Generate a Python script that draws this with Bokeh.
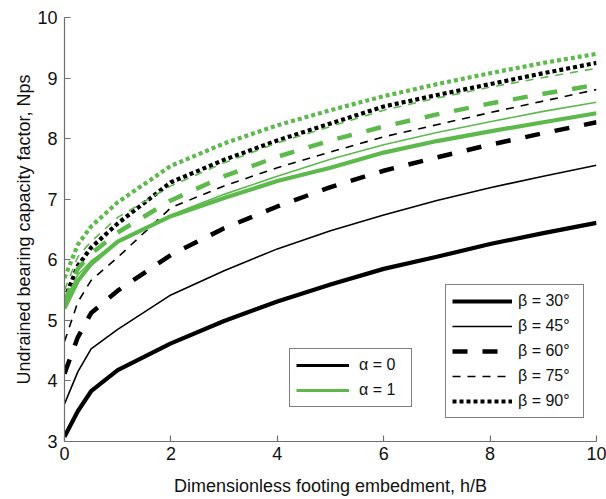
import numpy as np
from bokeh.plotting import figure
from bokeh.models import Range1d, Legend, LegendItem, FixedTicker
from bokeh.embed import file_html
from bokeh.resources import INLINE

# ---------------- data ----------------
h_over_b = [0, 0.25, 0.5, 1, 2, 3, 4, 5, 6, 7, 8, 9, 10]

# alpha = 0 (black)
a0_b30 = [3.08, 3.50, 3.83, 4.18, 4.62, 4.99, 5.31, 5.59, 5.85, 6.05, 6.26, 6.44, 6.61]
a0_b45 = [3.62, 4.15, 4.53, 4.85, 5.42, 5.82, 6.18, 6.48, 6.74, 6.98, 7.19, 7.38, 7.56]
a0_b60 = [4.12, 4.72, 5.12, 5.49, 6.08, 6.52, 6.88, 7.20, 7.47, 7.69, 7.90, 8.09, 8.27]
a0_b75 = [4.65, 5.30, 5.66, 6.04, 6.86, 7.22, 7.52, 7.78, 8.03, 8.23, 8.43, 8.62, 8.81]
a0_b90 = [5.35, 5.90, 6.20, 6.60, 7.28, 7.65, 7.97, 8.25, 8.53, 8.72, 8.90, 9.08, 9.25]

# alpha = 1 (green)
a1_b30 = [5.20, 5.65, 5.93, 6.30, 6.72, 7.02, 7.30, 7.52, 7.77, 7.96, 8.12, 8.27, 8.42]
a1_b45 = [5.30, 5.75, 5.98, 6.30, 6.74, 7.08, 7.38, 7.66, 7.90, 8.10, 8.28, 8.45, 8.60]
a1_b60 = [5.30, 5.85, 6.10, 6.45, 6.98, 7.38, 7.70, 7.97, 8.20, 8.40, 8.58, 8.74, 8.89]
a1_b75 = [5.50, 6.05, 6.30, 6.70, 7.22, 7.60, 7.93, 8.20, 8.47, 8.67, 8.85, 9.01, 9.16]
a1_b90 = [5.70, 6.25, 6.55, 6.95, 7.55, 7.92, 8.22, 8.47, 8.70, 8.90, 9.08, 9.25, 9.40]

beta_labels = ["β = 30°", "β = 45°", "β = 60°", "β = 75°", "β = 90°"]
alpha_labels = ["α = 0", "α = 1"]
x_ticks = [0, 2, 4, 6, 8, 10]
y_ticks = [3, 4, 5, 6, 7, 8, 9, 10]
x_title = "Dimensionless footing embedment, h/B"
y_title = "Undrained bearing capacity factor, Nps"

# ---------------- styles ----------------
BLACK = "#000000"
GREEN = "#5db94c"
TXT = "#111111"
FONT = "Liberation Sans"
styles = [
    dict(line_width=4.2, line_dash="solid"),
    dict(line_width=1.6, line_dash="solid"),
    dict(line_width=4.5, line_dash="15 15"),
    dict(line_width=1.6, line_dash="8 7"),
    dict(line_width=4.2, line_dash="4 3"),
]

FL, FB = 64, 441  # frame left / bottom on the canvas (px)

p = figure(width=606, height=499, output_backend="svg", toolbar_location=None,
           x_range=Range1d(0, 10), y_range=Range1d(3, 10),
           min_border_left=64, min_border_right=10, min_border_top=17, min_border_bottom=58)
p.outline_line_color = None
p.xgrid.visible = False
p.ygrid.visible = False
p.background_fill_color = "white"
p.border_fill_color = "white"

for ax in (p.xaxis[0], p.yaxis[0]):
    ax.axis_line_color = "#707070"
    ax.axis_line_width = 1.2
    ax.major_tick_line_color = "#707070"
    ax.major_tick_line_width = 1.2
    ax.major_tick_in = 6
    ax.major_tick_out = 0
    ax.minor_tick_line_color = None
    ax.major_label_text_font = FONT
    ax.major_label_text_font_size = "18px"
    ax.major_label_text_color = TXT
    ax.axis_label_text_font = FONT
    ax.axis_label_text_font_size = "18px"
    ax.axis_label_text_font_style = "normal"
    ax.axis_label_text_color = TXT
p.xaxis.ticker = FixedTicker(ticks=x_ticks)
p.yaxis.ticker = FixedTicker(ticks=y_ticks)
p.xaxis.major_label_standoff = 5
p.yaxis.major_label_standoff = 7
p.xaxis.axis_label = x_title
p.yaxis.axis_label = y_title
p.xaxis.axis_label_standoff = 13
p.yaxis.axis_label_standoff = 0

black_series = [a0_b30, a0_b45, a0_b60, a0_b75, a0_b90]
green_series = [a1_b30, a1_b45, a1_b60, a1_b75, a1_b90]

black_r = []
for ys, st in zip(black_series, styles):
    r = p.line(h_over_b, ys, line_color=BLACK, line_cap="butt", line_join="round", **st)
    black_r.append(r)
for ys, st in zip(green_series, styles):
    p.line(h_over_b, ys, line_color=GREEN, line_cap="butt", line_join="round", **st)

# ---------------- beta legend ----------------
leg_b = Legend(items=[LegendItem(label=t, renderers=[r]) for t, r in zip(beta_labels, black_r)],
               location=(445 - FL, FB - 418), orientation="vertical",
               glyph_width=60, glyph_height=20, label_height=20, spacing=5,
               padding=6, label_standoff=6, label_width=59, margin=0,
               border_line_color="black", border_line_width=1.5,
               label_text_font=FONT, label_text_font_size="16px", label_text_color=TXT,
               background_fill_alpha=1.0)
p.add_layout(leg_b)

# ---------------- alpha legend ----------------
a_black = p.line(x=[np.nan, np.nan], y=[np.nan, np.nan], line_color=BLACK, line_width=3.2)
a_green = p.line(x=[np.nan, np.nan], y=[np.nan, np.nan], line_color=GREEN, line_width=3.2)
leg_a = Legend(items=[LegendItem(label=alpha_labels[0], renderers=[a_black], index=0),
                      LegendItem(label=alpha_labels[1], renderers=[a_green], index=0)],
               location=(289 - FL, FB - 407), orientation="vertical",
               glyph_width=53, glyph_height=20, label_height=20, spacing=5,
               padding=6, label_standoff=10, label_width=46, margin=0,
               border_line_color="black", border_line_width=1.5,
               label_text_font=FONT, label_text_font_size="16px", label_text_color=TXT,
               background_fill_alpha=1.0)
p.add_layout(leg_a)

open("out.html", "w").write(file_html(p, INLINE))
